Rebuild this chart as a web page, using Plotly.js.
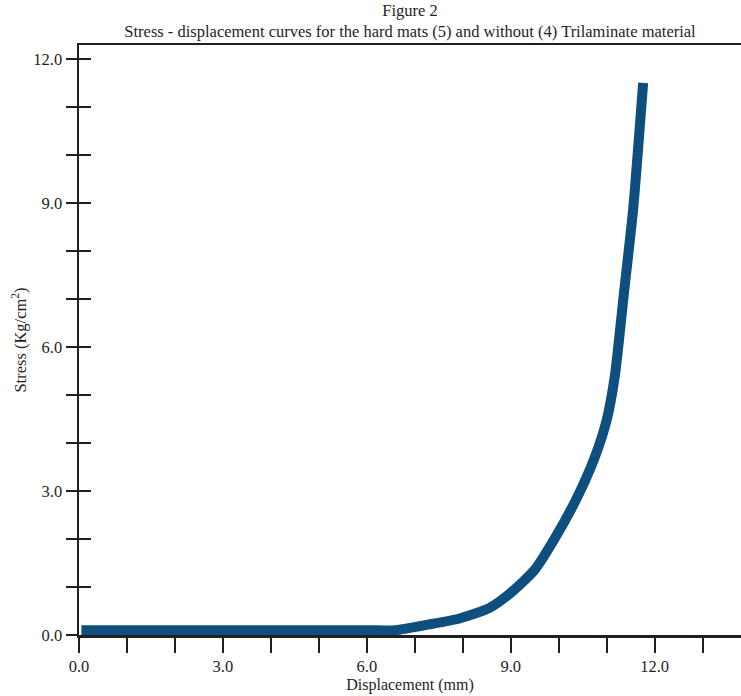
<!DOCTYPE html>
<html>
<head>
<meta charset="utf-8">
<script src="https://cdn.plot.ly/plotly-3.0.1.min.js"></script>
<style>html,body{margin:0;padding:0;background:#fff;}#chart{width:741px;height:696px;}</style>
</head>
<body>
<div id="chart"></div>
<script>
// Displacement (mm) and Stress (Kg/cm²)
const displacement = [0.05, 1, 2, 3, 4, 5, 6, 6.6, 7.3, 7.95, 8.55, 9.0, 9.5, 9.98, 10.4, 10.75, 11.0, 11.17, 11.36, 11.55, 11.76];
const stress       = [0.1, 0.1, 0.1, 0.1, 0.1, 0.1, 0.1, 0.1, 0.22, 0.35, 0.56, 0.88, 1.36, 2.12, 2.9, 3.7, 4.48, 5.4, 7.13, 8.86, 11.51];
const xTickVals = [0, 3, 6, 9, 12];
const xTickText = ["0.0", "3.0", "6.0", "9.0", "12.0"];
const yTickVals = [0, 3, 6, 9, 12];
const yTickText = ["0.0", "3.0", "6.0", "9.0", "12.0"];

const axisColor = "#231f20";
const fontFam = "Liberation Serif, DejaVu Serif, serif";

const traces = [{
  x: displacement, y: stress, type: "scatter", mode: "lines",
  line: {color: "#0f4f7f", width: 10, shape: "spline", smoothing: 0.6},
  hoverinfo: "skip", showlegend: false
}, {
  x: [0], y: [0], yaxis: "y2", type: "scatter", mode: "none",
  hoverinfo: "skip", showlegend: false
}];

const layout = {
  width: 741, height: 696,
  margin: {l: 79, r: 0, t: 45, b: 61},
  paper_bgcolor: "#fff", plot_bgcolor: "#fff",
  font: {family: fontFam, color: "#231f20"},
  title: {
    text: "Figure 2<br>Stress - displacement curves for the hard mats (5) and without (4) Trilaminate material",
    font: {size: 16.5, family: fontFam, color: "#231f20"},
    x: 0.5, xref: "paper", y: 0.977, yref: "container", yanchor: "middle"
  },
  xaxis: {
    range: [0, 13.8], showgrid: false, zeroline: false,
    showline: true, linecolor: axisColor, linewidth: 2.5, mirror: true,
    tickmode: "array", tickvals: xTickVals, ticktext: xTickText,
    ticks: "outside", ticklen: 15, tickwidth: 2, tickcolor: axisColor,
    minor: {dtick: 1, tick0: 0, ticks: "outside", ticklen: 15, tickwidth: 2, tickcolor: axisColor, showgrid: false},
    tickfont: {size: 16.5, family: fontFam, color: axisColor},
    title: {text: "Displacement (mm)", font: {size: 16, family: fontFam, color: axisColor}, standoff: 4}
  },
  yaxis: {
    range: [0, 12.3], showgrid: false, zeroline: false,
    showline: true, linecolor: axisColor, linewidth: 2.5, mirror: false,
    tickmode: "array", tickvals: yTickVals, ticktext: yTickText,
    ticks: "outside", ticklen: 11, tickwidth: 2, tickcolor: axisColor,
    minor: {dtick: 1, tick0: 0, ticks: "outside", ticklen: 11, tickwidth: 2, tickcolor: axisColor, showgrid: false},
    tickfont: {size: 16.5, family: fontFam, color: axisColor},
    title: {text: "Stress (Kg/cm<sup>2</sup>)", font: {size: 16.5, family: fontFam, color: axisColor}, standoff: 3}
  },
  yaxis2: {
    overlaying: "y", side: "left", range: [0, 12.3],
    showgrid: false, zeroline: false, showline: false, showticklabels: false,
    tickmode: "linear", tick0: 0, dtick: 1,
    ticks: "inside", ticklen: 12, tickwidth: 2, tickcolor: axisColor
  }
};

Plotly.newPlot("chart", traces, layout, {displayModeBar: false, staticPlot: true});
</script>
</body>
</html>
